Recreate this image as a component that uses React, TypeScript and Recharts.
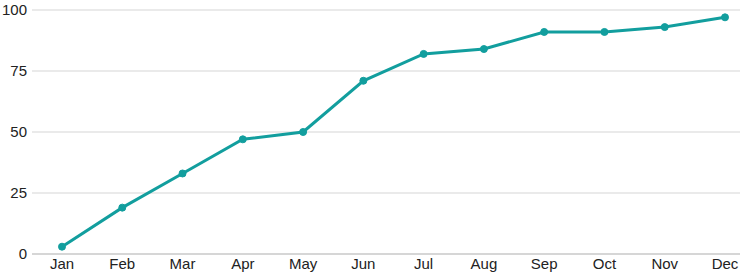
import { LineChart, Line, XAxis, YAxis, CartesianGrid } from 'recharts';

const months = ['Jan', 'Feb', 'Mar', 'Apr', 'May', 'Jun', 'Jul', 'Aug', 'Sep', 'Oct', 'Nov', 'Dec'];
const values = [3, 19, 33, 47, 50, 71, 82, 84, 91, 91, 93, 97];
const yTicks = [0, 25, 50, 75, 100];

const data = months.map((m, i) => ({ month: m, value: values[i] }));

const tickStyle = { fill: '#222', fontSize: 15, fontFamily: 'Liberation Sans, Arial, sans-serif' };

export default function App() {
  return (
    <div style={{ width: 740, height: 274 }}>
      <style>{'body{margin:0}'}</style>
      <LineChart width={740} height={274} data={data} margin={{ top: 10, right: 0, left: 0, bottom: 0 }}>
        <CartesianGrid stroke="#e3e3e3" strokeWidth={1.5} vertical={false} />
        <XAxis
          dataKey="month"
          tick={tickStyle}
          tickLine={false}
          axisLine={{ stroke: '#cfcfcf', strokeWidth: 1.5 }}
          tickSize={0}
          tickMargin={4}
          height={20}
          padding={{ left: 30, right: 15 }}
          interval={0}
        />
        <YAxis
          domain={[0, 100]}
          ticks={yTicks}
          tick={tickStyle}
          tickLine={false}
          axisLine={false}
          tickSize={0}
          tickMargin={5}
          width={32}
        />
        <Line
          type="linear"
          dataKey="value"
          stroke="#129e9e"
          strokeWidth={3}
          dot={{ r: 3.5, fill: '#129e9e', stroke: '#129e9e', strokeWidth: 1 }}
          isAnimationActive={false}
        />
      </LineChart>
    </div>
  );
}
